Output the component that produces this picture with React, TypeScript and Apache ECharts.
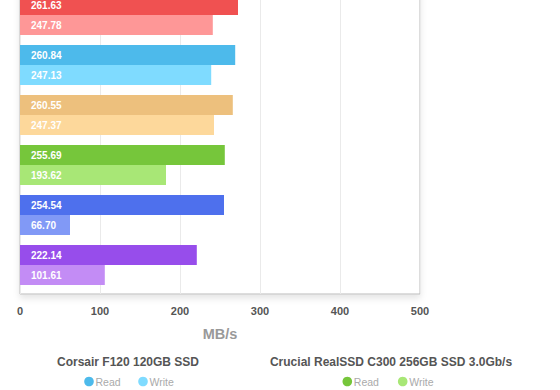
import React, { useEffect, useRef } from "react";
import * as echarts from "echarts";

// Drives (y categories); only two names are visible in the cropped legend
const categories = [
  "Drive 1",
  "Corsair F120 120GB SSD",
  "Drive 3",
  "Crucial RealSSD C300 256GB SSD 3.0Gb/s",
  "Drive 5",
  "Drive 6",
];
// Bar lengths as drawn (MB/s)
const readValues = [272.5, 269, 266, 256, 255, 221];
const writeValues = [241, 239, 242.5, 182.5, 62.5, 106];
// Printed labels on bars
const readLabels = ["261.63", "260.84", "260.55", "255.69", "254.54", "222.14"];
const writeLabels = ["247.78", "247.13", "247.37", "193.62", "66.70", "101.61"];
const readColors = ["#F05151", "#4DBAEB", "#EDC07D", "#76C63B", "#4E70ED", "#974DEB"];
const writeColors = ["#FE9797", "#7FDBFF", "#FDD89B", "#A8E776", "#8199F6", "#C38CF5"];
const xMin = 0;
const xMax = 500;
const xInterval = 100;
const axisName = "MB/s";
const legendEntries = [1, 3]; // indices into categories visible in legend
const legendItems = ["Read", "Write"];

const FONT = "'Liberation Sans', Arial, Helvetica, sans-serif";
// chart canvas starts above the visible page (the reference is cropped at the top)
const OFF = 20;

export default function App() {
  const ref = useRef<HTMLDivElement>(null);
  useEffect(() => {
    if (!ref.current) return;
    const chart = echarts.init(ref.current, undefined, { renderer: "svg" });

    const legendPos = [
      { cx: 128, readX: 89, writeX: 143 },
      { cx: 391, readX: 347.3, writeX: 402.7 },
    ];
    const graphics: any[] = [];
    legendEntries.forEach((ci, k) => {
      const p = legendPos[k];
      graphics.push({
        type: "text",
        x: p.cx,
        y: 361.5 + OFF,
        style: {
          text: categories[ci],
          fill: "#555",
          font: `bold 12px ${FONT}`,
          textAlign: "center",
          textVerticalAlign: "middle",
        },
      });
      [p.readX, p.writeX].forEach((x, j) => {
        graphics.push({
          type: "circle",
          shape: { cx: x, cy: 381.5 + OFF, r: 4.8 },
          style: { fill: j === 0 ? readColors[ci] : writeColors[ci] },
        });
        graphics.push({
          type: "text",
          x: x + 6.5,
          y: 381.5 + OFF,
          style: {
            text: legendItems[j],
            fill: "#aaa",
            font: `10.5px ${FONT}`,
            textAlign: "left",
            textVerticalAlign: "middle",
          },
        });
      });
    });

    const labelStyle = {
      show: true,
      position: "insideLeft" as const,
      distance: 11,
      color: "#fff",
      fontSize: 10,
      fontWeight: "bold" as const,
      fontFamily: FONT,
    };

    chart.setOption({
      animation: false,
      textStyle: { fontFamily: FONT },
      grid: [
        { left: 20, width: 400, top: OFF - 10, height: 300, show: false, z: 3 },
        {
          left: 20,
          width: 400,
          top: 0,
          height: 294 + OFF,
          show: true,
          backgroundColor: "#fff",
          borderColor: "#bbb",
          borderWidth: 1,
          shadowColor: "rgba(0,0,0,0.10)",
          shadowBlur: 6,
          shadowOffsetY: 4,
          z: 0,
        },
      ],
      xAxis: [
        { gridIndex: 0, type: "value", min: xMin, max: xMax, interval: xInterval, show: false },
        {
          gridIndex: 1,
          type: "value",
          min: xMin,
          max: xMax,
          interval: xInterval,
          z: 1,
          axisLine: { show: false },
          axisTick: { show: false },
          splitLine: { show: true, lineStyle: { color: "#eaeaea", width: 1 } },
          axisLabel: { color: "#555", fontSize: 11, fontWeight: "bold", margin: 11, fontFamily: FONT },
          name: axisName,
          nameLocation: "middle",
          nameGap: 32,
          nameTextStyle: { color: "#999", fontSize: 14.5, fontWeight: "bold", fontFamily: FONT },
        },
      ],
      yAxis: [
        { gridIndex: 0, type: "category", data: categories, inverse: true, show: false },
        { gridIndex: 1, type: "value", show: false, splitLine: { show: false } },
      ],
      series: [
        {
          name: "Read",
          type: "bar",
          xAxisIndex: 0,
          yAxisIndex: 0,
          barWidth: 20,
          barGap: "0%",
          z: 3,
          data: readValues.map((v, i) => ({ value: v, itemStyle: { color: readColors[i] } })),
          label: { ...labelStyle, formatter: (p: any) => readLabels[p.dataIndex] },
        },
        {
          name: "Write",
          type: "bar",
          xAxisIndex: 0,
          yAxisIndex: 0,
          barWidth: 20,
          barGap: "0%",
          z: 3,
          data: writeValues.map((v, i) => ({ value: v, itemStyle: { color: writeColors[i] } })),
          label: { ...labelStyle, formatter: (p: any) => writeLabels[p.dataIndex] },
        },
      ],
      graphic: graphics,
    });
    return () => chart.dispose();
  }, []);
  return (
    <div
      ref={ref}
      style={{ position: "fixed", left: 0, top: -OFF, width: 560, height: 390 + OFF, background: "#fff" }}
    />
  );
}
